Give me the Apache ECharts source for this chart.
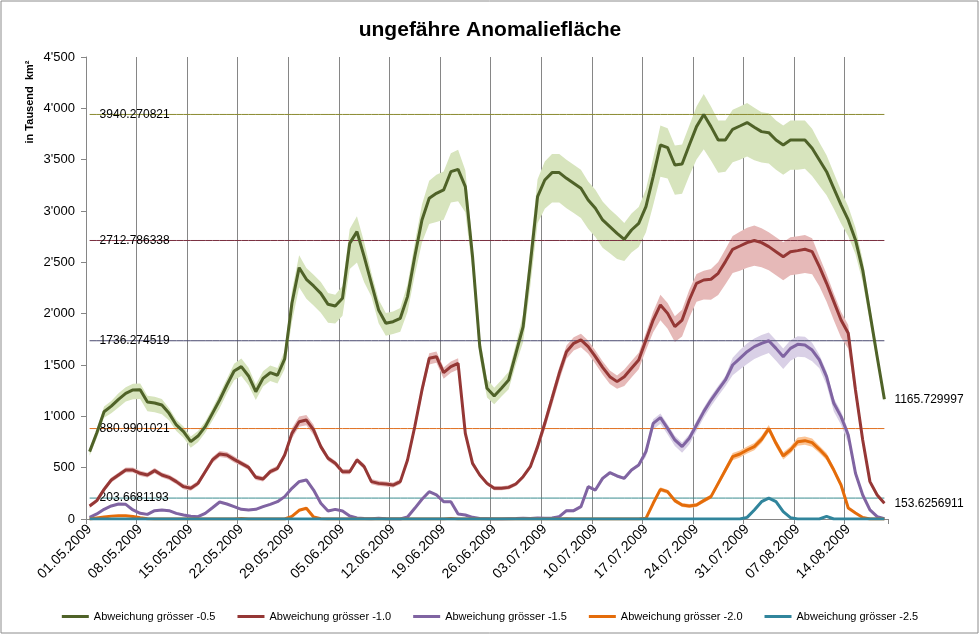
<!DOCTYPE html>
<html>
<head>
<meta charset="utf-8">
<script src="https://cdn.jsdelivr.net/npm/echarts@6/dist/echarts.min.js"></script>
<style>html,body{margin:0;padding:0;background:#fff}#c{width:980px;height:635px}</style>
</head>
<body>
<div id="c"></div>
<script>
// ---- categories ----
const dates = [];
for (let i = 0; i < 111; i++) {
  const d = new Date(Date.UTC(2009, 4, 1 + i));
  dates.push(String(d.getUTCDate()).padStart(2,'0') + '.' + String(d.getUTCMonth()+1).padStart(2,'0') + '.' + d.getUTCFullYear());
}
const seriesNames = ['Abweichung grösser -0.5','Abweichung grösser -1.0','Abweichung grösser -1.5','Abweichung grösser -2.0','Abweichung grösser -2.5'];
const yTicks = [0,500,1000,1500,2000,2500,3000,3500,4000,4500];

// ---- series values ----
const green = [656,840,1045,1100,1166,1224,1257,1260,1140,1130,1110,1029,916,851,753,808,899,1029,1159,1305,1442,1484,1393,1240,1370,1425,1400,1560,2101,2448,2335,2270,2198,2091,2075,2150,2685,2799,2555,2296,2036,1906,1922,1955,2166,2555,2913,3124,3172,3205,3383,3406,3237,2555,1679,1273,1198,1273,1354,1614,1874,2490,3140,3302,3374,3374,3318,3270,3221,3107,3026,2913,2848,2783,2724,2815,2880,3042,3335,3643,3617,3448,3458,3643,3822,3940.270821,3822,3692,3692,3796,3828,3861,3815,3773,3763,3692,3643,3692,3692,3692,3611,3497,3383,3221,3059,2913,2718,2425,2003,1581,1165.729997];
const red = [127,179,289,380,429,477,477,445,429,471,429,406,364,315,299,347,461,575,633,623,581,542,503,406,390,461,494,623,834,948,964,867,705,591,542,461,461,575,510,364,347,341,331,364,575,899,1257,1565,1581,1425,1484,1516,834,542,429,347,299,299,308,341,412,510,705,932,1175,1419,1630,1711,1744,1679,1581,1477,1386,1338,1386,1468,1549,1744,1938,2085,2003,1874,1938,2133,2296,2328,2335,2393,2507,2627,2659,2692,2712.786338,2692,2653,2604,2555,2604,2614,2627,2604,2458,2296,2117,1938,1809,1257,770,364,234,153.6256911];
const purple = [16,49,94,127,146,143,88,55,45,81,88,81,55,39,26,23,55,110,166,146,120,94,88,94,120,143,169,218,299,364,380,282,153,78,94,78,29,10,5,3,8,3,0,0,20,104,192,266,234,169,169,49,39,16,6,3,0,0,3,5,8,5,10,8,10,23,81,81,120,315,282,396,451,419,396,477,526,656,932,987,883,770,705,786,916,1046,1159,1257,1354,1500,1565,1630,1679,1711,1736.274519,1662,1581,1662,1701,1695,1646,1549,1386,1127,997,818,445,234,88,23,3];
const orange = [0,10,20,28,32,32,25,12,3,0,0,0,0,0,0,0,0,0,0,0,0,4,0,0,0,0,0,0,25,85,105,20,3,0,0,0,0,0,0,0,0,0,0,0,0,0,0,0,0,0,4,0,0,0,0,0,0,0,0,0,0,0,0,0,0,0,3,0,0,0,0,0,0,0,0,0,0,7,153,289,266,179,136,127,136,179,218,347,477,607,633,672,705,776,880.9901021,737,614,672,753,763,744,679,607,477,331,107,58,15,0,0,0];
const teal = [0,0,0,0,0,0,0,0,0,0,0,0,0,0,0,0,0,0,0,0,0,0,0,0,0,0,0,0,0,0,0,0,0,0,0,0,0,0,0,0,0,0,0,0,0,0,0,0,0,0,0,0,0,0,0,0,0,0,0,0,0,0,0,0,0,0,0,0,0,0,0,0,0,0,0,0,0,0,0,0,0,0,0,0,0,0,0,0,0,0,0,16,88,169,203.6681193,169,71,13,0,0,0,0,25,0,0,0,0,0,0,0,0];

// ---- band margins (above / below each line) ----
const greenUp = [30,40,50,50,60,60,60,60,60,60,60,50,50,50,50,50,50,50,60,60,70,80,80,70,70,70,70,80,120,120,110,110,110,110,110,120,140,150,140,100,100,100,100,100,120,130,150,170,180,180,180,190,160,120,100,90,80,80,80,90,120,150,170,180,180,180,180,180,180,180,180,180,170,170,160,160,160,170,180,190,190,190,190,190,195,200,195,190,190,190,190,190,190,190,190,190,190,190,190,190,190,170,160,150,140,130,120,100,80,50,20];
const greenDn = [40,50,60,70,80,80,90,90,90,90,90,70,60,60,60,60,60,70,80,80,90,90,90,80,80,80,80,100,180,190,190,190,190,180,170,170,250,300,250,130,130,120,120,130,150,180,220,250,280,290,300,310,250,150,110,90,80,80,90,110,150,220,260,280,290,290,290,290,290,280,280,270,260,250,210,220,230,250,280,310,300,290,290,300,320,340,330,320,310,320,330,330,320,300,300,290,290,290,290,280,270,250,230,200,180,160,140,120,90,60,20];
const redUp = [20,20,25,25,25,25,25,25,25,25,25,25,25,25,25,25,25,30,30,30,30,25,25,25,25,25,25,30,50,50,50,50,30,25,25,25,25,25,25,25,25,25,25,25,30,40,50,50,50,50,50,50,40,20,20,20,20,20,20,20,20,20,40,50,60,60,60,60,60,60,60,60,60,60,70,70,70,70,80,100,100,100,100,100,90,90,100,110,120,130,140,145,145,140,140,140,140,140,140,140,130,100,90,80,80,80,50,30,20,15,10];
const redDn = [20,20,25,25,25,25,25,25,25,25,25,25,25,25,25,25,25,30,30,30,30,25,25,25,25,25,25,30,50,50,50,50,30,25,25,25,25,25,25,25,25,25,25,25,30,50,60,60,60,60,60,60,40,20,20,20,20,20,20,20,20,20,50,60,70,70,70,70,70,70,70,70,70,70,90,90,90,100,120,150,150,150,160,170,180,190,200,210,220,230,240,245,245,240,230,230,230,230,230,230,220,190,180,180,170,150,80,50,30,20,10];
const purpleUp = [8,8,10,10,10,10,10,10,10,10,10,10,10,10,10,10,10,10,10,10,10,10,10,10,10,10,10,10,15,15,15,15,10,10,10,10,5,5,5,5,5,5,5,5,5,10,10,10,10,10,10,5,5,5,5,5,5,5,5,5,5,5,5,5,5,15,15,15,15,15,15,15,15,15,15,15,15,40,40,40,40,40,40,40,40,40,40,40,40,70,80,80,80,80,80,80,80,80,80,80,70,50,50,50,50,50,20,15,10,5,0];
const purpleDn = [8,8,10,10,10,10,10,10,10,10,10,10,10,10,10,10,10,10,10,10,10,10,10,10,10,10,10,10,15,15,15,15,10,10,10,10,5,5,5,5,5,5,5,5,5,10,10,10,10,10,10,5,5,5,5,5,5,5,5,5,5,5,5,5,5,15,15,15,15,15,15,15,15,15,15,15,15,50,60,60,60,60,60,60,60,60,60,60,60,100,110,120,120,120,120,120,120,120,120,120,110,80,80,80,80,80,20,15,10,5,0];
const orangeUp = [5,5,5,5,5,5,5,5,5,5,5,5,5,5,5,5,5,5,5,5,5,5,5,5,5,5,5,5,8,10,10,8,5,5,5,5,5,5,5,5,5,5,5,5,5,5,5,5,5,5,5,5,5,5,5,5,5,5,5,5,5,5,5,5,5,5,5,5,5,5,5,5,5,5,5,5,5,10,20,20,20,20,20,20,20,20,20,25,30,35,35,35,35,35,35,35,35,35,40,40,40,35,35,30,25,10,10,5,0,0,0];
const orangeDn = orangeUp;

// ---- reference lines ----
const refValues = [3940.270821, 2712.786338, 1736.274519, 880.9901021, 203.6681193];

// ---- styles ----
const lineColors = ['#4f6228','#953735','#8064a2','#e46c0a','#31859c'];
const bandColors = ['#d7e4bd','#e6b9b8','#d9d0e6','#fbc597'];
const refColors = ['#8a8a30','#7a3040','#4a4a70','#e07020','#3a8c90'];
const FONT = 'Liberation Sans, Arial, sans-serif';

const mains = [green, red, purple, orange, teal];
const bands = [[greenUp, greenDn],[redUp, redDn],[purpleUp, purpleDn],[orangeUp, orangeDn]];

const series = [];
bands.forEach((b, k) => {
  const v = mains[k];
  const lower = v.map((x, i) => Math.max(0, x - b[1][i]));
  const diff = v.map((x, i) => (x + b[0][i]) - lower[i]);
  series.push({
    name: 'band' + k + 'a', type: 'line', stack: 'band' + k, data: lower,
    symbol: 'none', lineStyle: { width: 0, opacity: 0 }, silent: true, z: 1
  });
  series.push({
    name: 'band' + k + 'b', type: 'line', stack: 'band' + k, data: diff,
    symbol: 'none', lineStyle: { width: 0, opacity: 0 },
    areaStyle: { color: bandColors[k], opacity: 1 }, silent: true, z: 1
  });
});
refValues.forEach((rv, k) => {
  const data = dates.map(() => rv);
  data[0] = { value: rv, label: { show: true, position: 'right', distance: 10, formatter: String(rv), color: '#000', fontSize: 12, fontFamily: FONT } };
  series.push({
    name: 'ref' + k, type: 'line', data: data, symbol: 'circle', symbolSize: 0,
    lineStyle: { width: 1, color: refColors[k] }, itemStyle: { color: refColors[k] }, silent: true, z: 2
  });
});
mains.forEach((v, k) => {
  const s = {
    name: seriesNames[k], type: 'line', data: v, symbol: 'none',
    lineStyle: { width: 3, color: lineColors[k] }, itemStyle: { color: lineColors[k] }, z: 3 + k
  };
  if (k === 0 || k === 1) {
    s.endLabel = { show: true, formatter: p => String(p.value), distance: 10, color: '#000', fontSize: 12, fontFamily: FONT };
  }
  series.push(s);
});

const chart = echarts.init(document.getElementById('c'), null, { renderer: 'canvas' });
chart.setOption({
  animation: false,
  backgroundColor: '#fff',
  title: {
    text: 'ungefähre Anomaliefläche', left: 'center', top: 15,
    textStyle: { fontSize: 21, fontWeight: 'bold', color: '#000', fontFamily: FONT }
  },
  legend: {
    data: seriesNames, left: 'center', top: 606, icon: 'rect', itemWidth: 27, itemHeight: 3, itemGap: 22,
    textStyle: { fontSize: 11, color: '#000', fontFamily: FONT }
  },
  grid: { left: 86, right: 92, top: 57, bottom: 116 },
  xAxis: {
    type: 'category', data: dates, boundaryGap: true,
    axisLine: { lineStyle: { color: '#868686' } },
    axisTick: { show: true, interval: 6, length: 5, lineStyle: { color: '#868686' } },
    axisLabel: { interval: 6, rotate: 45, fontSize: 14, color: '#000', fontFamily: FONT, margin: 8 },
    splitLine: { show: true, interval: 6, showMaxLine: false, lineStyle: { color: '#868686', width: 1 } }
  },
  yAxis: {
    type: 'value', min: 0, max: 4500, interval: 500,
    axisLine: { show: true, lineStyle: { color: '#868686' } },
    axisTick: { show: true, length: 5, lineStyle: { color: '#868686' } },
    splitLine: { show: false },
    axisLabel: {
      fontSize: 13, color: '#000', fontFamily: FONT, margin: 11,
      formatter: v => yTicks.indexOf(v) < 0 ? '' : (v >= 1000 ? Math.floor(v / 1000) + "'" + String(v % 1000).padStart(3, '0') : String(v))
    }
  },
  graphic: [
    { type: 'rect', shape: { x: 1, y: 1, width: 977, height: 632 }, style: { fill: 'none', stroke: '#8c8c8c', lineWidth: 1 }, silent: true },
    { type: 'text', x: 30, y: 102, rotation: Math.PI / 2,
      style: { text: 'in Tausend  km²', fontSize: 11, fontWeight: 'bold', fill: '#000', fontFamily: FONT, align: 'center', verticalAlign: 'middle' } }
  ],
  series: series
});
</script>
</body>
</html>
